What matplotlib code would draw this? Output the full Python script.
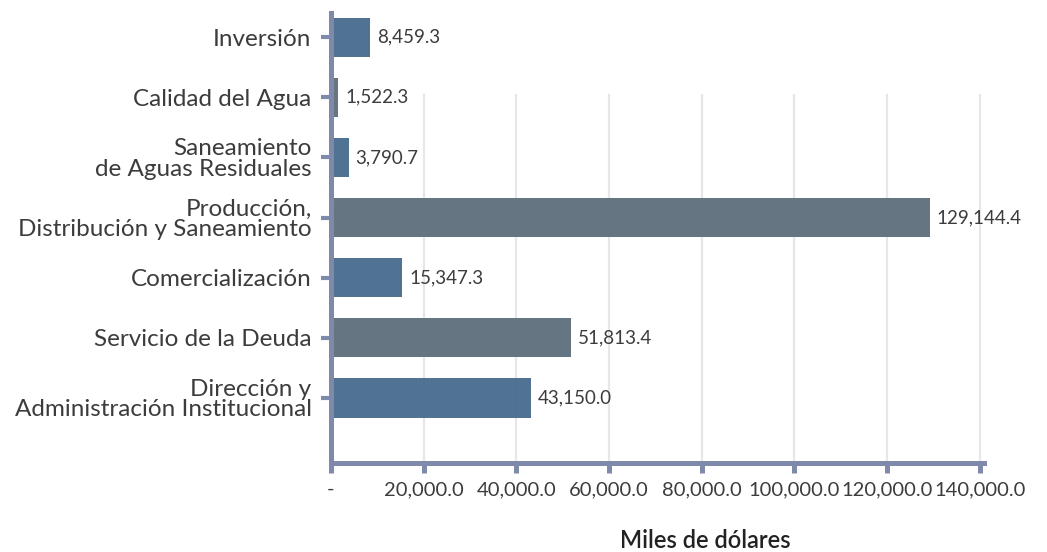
import matplotlib
matplotlib.use("Agg")
import matplotlib.pyplot as plt
from matplotlib.ticker import FuncFormatter

categories = [
    "Inversión",
    "Calidad del Agua",
    "Saneamiento\nde Aguas Residuales",
    "Producción,\nDistribución y Saneamiento",
    "Comercialización",
    "Servicio de la Deuda",
    "Dirección y\nAdministración Institucional",
]
values = [8459.3, 1522.3, 3790.7, 129144.4, 15347.3, 51813.4, 43150.0]
xticks = [0, 20000, 40000, 60000, 80000, 100000, 120000, 140000]
xlabel = "Miles de dólares"

BLUE = "#4a6e90"
GRAY = "#61717e"
bar_colors = [BLUE, GRAY, BLUE, GRAY, BLUE, GRAY, BLUE]
AXC = "#7f8aab"
TXT = "#3c3c3c"

plt.rcParams["font.family"] = ["Lato", "DejaVu Sans"]

W, H = 1047, 552
fig = plt.figure(figsize=(W / 100, H / 100), dpi=100)
ax = fig.add_axes([331 / W, 1 - 463 / H, (984 - 331) / W, (463 - 13) / H])

ypos = list(range(len(categories)))
ax.barh(ypos, values, height=0.65, color=bar_colors, alpha=0.97, zorder=3)

ax.set_xlim(0, 140900)
ax.set_ylim(len(categories) - 1 + 1.08, -0.4)

for t in xticks[1:]:
    ax.axvline(t, ymin=0, ymax=0.817, color="#e6e6ec", lw=1.6, zorder=0)

for y, v in zip(ypos, values):
    ax.annotate(f"{v:,.1f}", xy=(v, y), xytext=(5, 0), textcoords="offset points",
                ha="left", va="center", fontsize=13.5, color=TXT)

ax.set_xticks(xticks)
ax.xaxis.set_major_formatter(FuncFormatter(lambda x, p: "-" if x == 0 else f"{x:,.1f}"))
ax.set_yticks(ypos)
ax.set_yticklabels(categories, linespacing=0.95)

for lbl in ax.get_xticklabels() + ax.get_yticklabels():
    lbl.set_color(TXT)
for lbl in ax.get_xticklabels():
    lbl.set_fontsize(14.5)
for lbl in ax.get_yticklabels():
    lbl.set_fontsize(17.5)

ax.tick_params(axis="x", direction="out", length=7, width=3.6, color=AXC, pad=6)
ax.tick_params(axis="y", direction="out", length=7, width=3, color=AXC, pad=7)
for i, tk in enumerate(ax.yaxis.get_major_ticks()):
    if i >= 5:
        tk.tick1line.set_color("#4a5488")

for s in ["top", "right"]:
    ax.spines[s].set_visible(False)
for s in ["left", "bottom"]:
    ax.spines[s].set_color(AXC)
    ax.spines[s].set_linewidth(3.6)
    ax.spines[s].set_zorder(5)

fig.text(705 / W, 1 - 548 / H, xlabel, ha="center", va="baseline",
         fontsize=17, fontweight="semibold", color="#222222")

fig.savefig("out.png", dpi=100, facecolor="white")
